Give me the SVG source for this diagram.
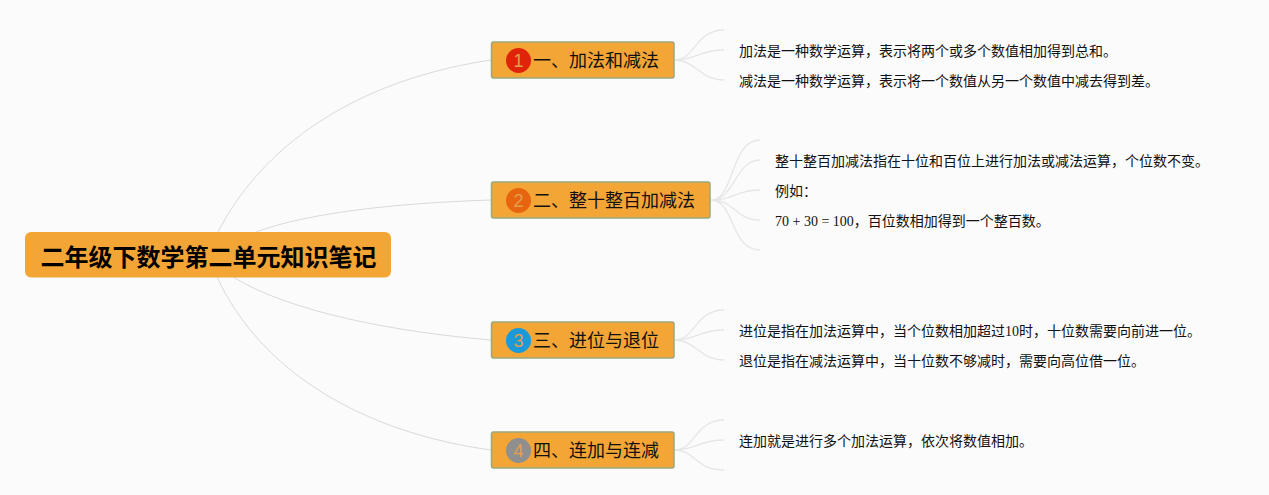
<svg xmlns="http://www.w3.org/2000/svg" width="1269" height="495" viewBox="0 0 1269 495">
<style>
text{font-family:"Liberation Serif","Noto Sans CJK SC",serif;fill:#111}
.leaf{font-size:14px}
.topic{font-size:18px;font-family:"Noto Sans CJK SC",sans-serif}
.root{font-size:24px;font-weight:700;font-family:"Noto Sans CJK SC",sans-serif;fill:#000}
.box{fill:#f3a536;stroke:#9aa97c;stroke-width:1.5}
.num{font-size:18px;font-family:"Liberation Sans",sans-serif;text-anchor:middle;fill:#e2a04e}
.c{fill:none;stroke:#d9d9d9;stroke-width:1}
.l{fill:none;stroke:#e6e6e6;stroke-width:1.3}
</style>
<rect width="1269" height="495" fill="#fbfbfb"/>
<g id="connectors">
<path class="c" d="M218 232C268 135 370 78 491 60"/>
<path class="c" d="M256 232C310 212 400 203 491 200"/>
<path class="c" d="M233 277C290 312 395 332 491 340"/>
<path class="c" d="M217 277C260 370 360 432 491 450"/>
<path class="l" d="M675 60C695 60 695 30 724 30"/>
<path class="l" d="M675 60C695 60 700 50 724 50"/>
<path class="l" d="M675 60C695 60 700 80 724 80"/>
<path class="l" d="M711 200C735 200 730 140 760 140"/>
<path class="l" d="M711 200C735 200 735 160 760 160"/>
<path class="l" d="M711 200C735 200 735 190 760 190"/>
<path class="l" d="M711 200C735 200 735 220 760 220"/>
<path class="l" d="M711 200C735 200 730 250 760 250"/>
<path class="l" d="M675 340C695 340 695 310 724 310"/>
<path class="l" d="M675 340C695 340 700 330 724 330"/>
<path class="l" d="M675 340C695 340 700 360 724 360"/>
<path class="l" d="M675 450C695 450 695 420 724 420"/>
<path class="l" d="M675 450C695 450 700 440 724 440"/>
<path class="l" d="M675 450C695 450 695 470 724 470"/>
</g>
<g id="root"><rect x="25" y="232" width="366" height="45.500" rx="6" fill="#f3a536"/><text class="root" x="40.500" y="265.500">二年级下数学第二单元知识笔记</text></g>
<g id="topic1"><rect class="box" x="491.500" y="42" width="182.500" height="36" rx="2"/><circle cx="518.500" cy="60.500" r="12.500" fill="#e0240a"/><text class="num" x="518.500" y="67">1</text><text class="topic" x="533" y="67">一、加法和减法</text></g>
<g id="topic2"><rect class="box" x="491.500" y="182" width="218.500" height="36" rx="2"/><circle cx="518.500" cy="200.500" r="12.500" fill="#e8650f"/><text class="num" x="518.500" y="207">2</text><text class="topic" x="533" y="207">二、整十整百加减法</text></g>
<g id="topic3"><rect class="box" x="491.500" y="322" width="182.500" height="36" rx="2"/><circle cx="518.500" cy="340.500" r="12.500" fill="#1a9ad8"/><text class="num" x="518.500" y="347">3</text><text class="topic" x="533" y="347">三、进位与退位</text></g>
<g id="topic4"><rect class="box" x="491.500" y="432" width="182.500" height="36" rx="2"/><circle cx="518.500" cy="450.500" r="12.500" fill="#8f8f8f"/><text class="num" x="518.500" y="457">4</text><text class="topic" x="533" y="457">四、连加与连减</text></g>
<g id="leaf1"><text class="leaf" x="739" y="56">加法是一种数学运算，表示将两个或多个数值相加得到总和。</text></g>
<g id="leaf2"><text class="leaf" x="739" y="86">减法是一种数学运算，表示将一个数值从另一个数值中减去得到差。</text></g>
<g id="leaf3"><text class="leaf" x="775" y="166">整十整百加减法指在十位和百位上进行加法或减法运算，个位数不变。</text></g>
<g id="leaf4"><text class="leaf" x="775" y="196">例如：</text></g>
<g id="leaf5"><text class="leaf" x="775" y="226">70 + 30 = 100，百位数相加得到一个整百数。</text></g>
<g id="leaf6"><text class="leaf" x="739" y="336">进位是指在加法运算中，当个位数相加超过10时，十位数需要向前进一位。</text></g>
<g id="leaf7"><text class="leaf" x="739" y="366">退位是指在减法运算中，当十位数不够减时，需要向高位借一位。</text></g>
<g id="leaf8"><text class="leaf" x="739" y="446">连加就是进行多个加法运算，依次将数值相加。</text></g>
</svg>
